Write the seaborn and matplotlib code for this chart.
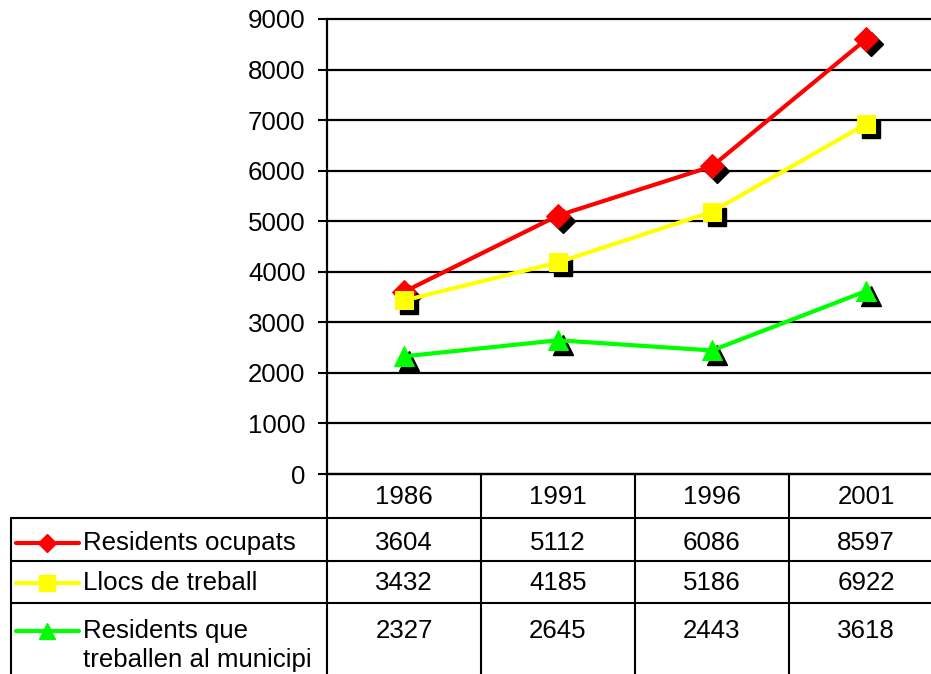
import numpy as np
import pandas as pd
import matplotlib
matplotlib.use("Agg")
import matplotlib.pyplot as plt
import matplotlib.transforms as mtransforms
import seaborn as sns

# data
years = ["1986", "1991", "1996", "2001"]
residents_ocupats = [3604, 5112, 6086, 8597]
llocs_treball = [3432, 4185, 5186, 6922]
residents_municipi = [2327, 2645, 2443, 3618]
series_labels = ["Residents ocupats", "Llocs de treball",
                 "Residents que\ntreballen al municipi"]
y_ticks = [0, 1000, 2000, 3000, 4000, 5000, 6000, 7000, 8000, 9000]

series_values = [residents_ocupats, llocs_treball, residents_municipi]
series_colors = ["#FF0000", "#FFFF00", "#00FF00"]
series_markers = ["D", "s", "^"]
marker_sizes = [12, 12.5, 14]
legend_sizes = [9.5, 12, 11]

sns.set_style("white")
plt.rcParams['font.family'] = ['Liberation Sans', 'DejaVu Sans']
plt.rcParams['text.color'] = 'black'
plt.rcParams['ytick.color'] = 'black'
plt.rcParams['ytick.labelcolor'] = 'black'

FS = 18.6

W, H = 931, 674
fig = plt.figure(figsize=(W / 100, H / 100), dpi=100)

# plot area: x from 327px, one category = 154px, y from 474px (0) to 19px (9000)
left_px, cat_px = 327, 154
ax = fig.add_axes([left_px / W, (H - 474) / H, 4 * cat_px / W, 455 / H])
xpos = np.arange(len(years))

shadow = mtransforms.offset_copy(ax.transData, fig=fig, x=5, y=-5, units='dots')

for vals, col, mk, ms in zip(series_values, series_colors, series_markers, marker_sizes):
    ax.plot(xpos, vals, ls='none', marker=mk, ms=ms, color='black',
            transform=shadow)
    sns.lineplot(x=xpos, y=vals, color=col, marker=mk, markersize=ms,
                 markeredgecolor=col, linewidth=3, ax=ax)

ax.set_xlim(-0.5, 3.5)
ax.set_ylim(0, 9000)
ax.set_yticks(y_ticks)
ax.set_xticks([])
ax.set_axisbelow(True)
ax.yaxis.grid(True, color='black', linewidth=1.6)
for gl in ax.get_ygridlines():
    gl.set_clip_on(False)
ax.tick_params(axis='y', left=True, direction='out', length=6.5, width=1.5,
               labelsize=FS, pad=9, color='black', labelcolor='black')
for side in ['top', 'right']:
    ax.spines[side].set_visible(False)
for side in ['left', 'bottom']:
    ax.spines[side].set_color('black')
    ax.spines[side].set_linewidth(1.6)
ax.set_facecolor('white')


# data table underneath, x in category units, y in pixels from top
def px2x(px):
    return -0.5 + (px - left_px) / cat_px


tab = fig.add_axes([0, 0, (left_px + 4 * cat_px) / W, 200 / H])
tab.set_xlim(px2x(0), 3.5)
tab.set_ylim(674, 474)
tab.axis('off')

lw = 1.5
row_lines = [518, 561, 603]
for yl in row_lines:
    tab.plot([px2x(11), 3.5], [yl, yl], color='black', lw=lw, clip_on=False)
for xl in [-0.5, 0.5, 1.5, 2.5]:
    tab.plot([xl, xl], [474, 680], color='black', lw=lw, clip_on=False)
tab.plot([px2x(11), px2x(11)], [518, 680], color='black', lw=lw, clip_on=False)

for i, yr in enumerate(years):
    tab.text(i, 497, yr, ha='center', va='center', fontsize=FS)

row_y = [543, 583, 631]
for vals, lab, col, mk, ms, ry in zip(series_values, series_labels, series_colors,
                                      series_markers, legend_sizes, row_y):
    tab.plot([px2x(16), px2x(79)], [ry, ry], color=col, lw=3)
    tab.plot([px2x(47)], [ry], marker=mk, ms=ms, color=col, markeredgecolor=col)
    if '\n' in lab:
        first, second = lab.split('\n')
        tab.text(px2x(83), ry, first, ha='left', va='center', fontsize=FS)
        tab.text(px2x(83), ry + 29, second, ha='left', va='center', fontsize=FS)
    else:
        tab.text(px2x(83), ry, lab, ha='left', va='center', fontsize=FS)
    for i, v in enumerate(vals):
        tab.text(i, ry, str(v), ha='center', va='center', fontsize=FS)

fig.savefig("out.png", dpi=100, facecolor='white')
